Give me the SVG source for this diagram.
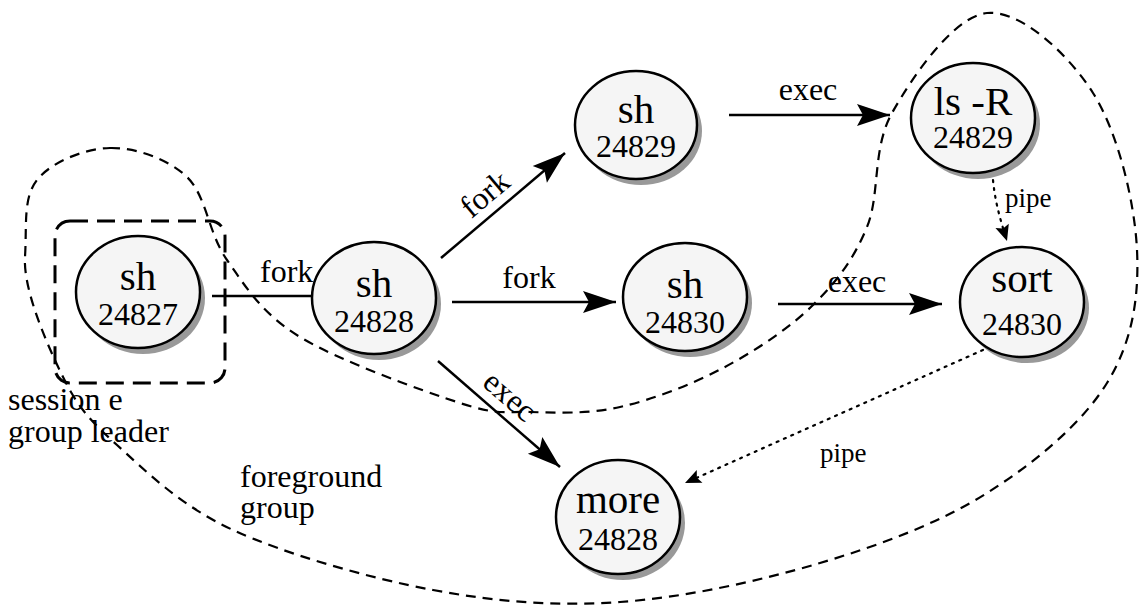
<svg xmlns="http://www.w3.org/2000/svg" width="1139" height="606" viewBox="0 0 1139 606">
<style>
text{font-family:"Liberation Serif","Times New Roman",serif;fill:#000}
.nm{font-size:41px;text-anchor:middle}
.pid{font-size:32px;text-anchor:middle}
.lbl{font-size:32px}
.pl{font-size:27px}
.shadow{fill:#999;stroke:none}
.body{fill:#f5f5f5;stroke:#000;stroke-width:2.5}
.edge{stroke:#000;stroke-width:2.5;fill:none}
.dot{stroke:#000;stroke-width:2.2;fill:none;stroke-dasharray:2 6;stroke-linecap:round}
.grp{stroke:#000;stroke-width:2.2;fill:none;stroke-dasharray:10 7}
.leader{stroke:#000;stroke-width:3;fill:none;stroke-dasharray:18 9}
</style>
<defs>
<marker id="big" markerUnits="userSpaceOnUse" markerWidth="40" markerHeight="30" viewBox="-36 -15 40 30" refX="0" refY="0" orient="auto">
<path d="M0,0 L-33,-11 L-27,0 L-33,11 Z" fill="#000"/>
</marker>
<marker id="small" markerUnits="userSpaceOnUse" markerWidth="24" markerHeight="20" viewBox="-20 -10 24 20" refX="0" refY="0" orient="auto">
<path d="M0,0 L-16,-7 L-13,0 L-16,7 Z" fill="#000"/>
</marker>
</defs>

<g id="groups">
<path class="grp" d="M110,148 C135,147.5 167.5,158.3 187,177 C206.5,195.7 208.2,233.3 227,260 C245.8,286.7 261.2,313.2 300,337 C338.8,360.8 421.7,390.5 460,403 C498.3,415.5 503.3,411.3 530,412 C556.7,412.7 587.8,414.3 620,407 C652.2,399.7 690.8,385 723,368 C755.2,351 789,328.5 813,305 C837,281.5 853.8,259 867,227 C880.2,195 872,148.7 892,113 C912,77.3 953.5,16.3 987,13 C1020.5,9.7 1068,53.5 1093,93 C1118,132.5 1134.7,201.7 1137,250 C1139.3,298.3 1132,342.5 1107,383 C1082,423.5 1034.8,463 987,493 C939.2,523 881.2,544.8 820,563 C758.8,581.2 684.5,597.5 620,602 C555.5,606.5 497.5,602 433,590 C368.5,578 285.7,554.2 233,530 C180.3,505.8 145.5,470.8 117,445 C88.5,419.2 77.3,406.3 62,375 C46.7,343.7 23,289.5 25,257 C27,224.5 22.8,198.2 37,180 C51.2,161.8 85,148.5 110,148 Z"/>
<rect class="leader" x="55" y="221" width="170" height="162" rx="15" ry="15"/>
</g>

<g id="connectors">
<line class="edge" x1="212" y1="296" x2="313" y2="296"/>
<text class="lbl" x="260" y="282">fork</text>
<line class="edge" x1="441" y1="258" x2="565" y2="153" marker-end="url(#big)"/>
<text class="lbl" x="491.6" y="202" text-anchor="middle" transform="rotate(-40 491.6 202)">fork</text>
<line class="edge" x1="452" y1="302" x2="616" y2="302" marker-end="url(#big)"/>
<text class="lbl" x="529" y="288" text-anchor="middle">fork</text>
<line class="edge" x1="729" y1="115" x2="890" y2="115" marker-end="url(#big)"/>
<text class="lbl" x="808" y="100" text-anchor="middle">exec</text>
<line class="edge" x1="778" y1="304" x2="942" y2="304" marker-end="url(#big)"/>
<text class="lbl" x="857" y="292" text-anchor="middle">exec</text>
<line class="edge" x1="438" y1="361" x2="560" y2="467" marker-end="url(#big)"/>
<text class="lbl" x="503" y="404" text-anchor="middle" transform="rotate(41 503 404)">exec</text>
<path class="dot" d="M993,180 C995,200 999,216 1007,241" marker-end="url(#small)"/>
<text class="pl" x="1005" y="207">pipe</text>
<line class="dot" x1="983" y1="350" x2="685" y2="483" marker-end="url(#small)"/>
<text class="pl" x="820" y="462">pipe</text>
</g>

<g id="n24827">
<ellipse class="shadow" cx="143" cy="298" rx="62" ry="56"/>
<ellipse class="body" cx="138" cy="292" rx="62" ry="56"/>
<text class="nm" x="138" y="290">sh</text>
<text class="pid" x="138" y="325">24827</text>
</g>
<g id="n24828">
<ellipse class="shadow" cx="379" cy="304" rx="62" ry="56"/>
<ellipse class="body" cx="374" cy="298" rx="62" ry="56"/>
<text class="nm" x="374" y="297">sh</text>
<text class="pid" x="374" y="332">24828</text>
</g>
<g id="n24829">
<ellipse class="shadow" cx="641" cy="131" rx="61" ry="54"/>
<ellipse class="body" cx="636" cy="125" rx="61" ry="54"/>
<text class="nm" x="636" y="123">sh</text>
<text class="pid" x="636" y="157">24829</text>
</g>
<g id="nlsR">
<ellipse class="shadow" cx="978" cy="124" rx="62" ry="55"/>
<ellipse class="body" cx="973" cy="118" rx="62" ry="55"/>
<text class="nm" x="973" y="115">ls -R</text>
<text class="pid" x="973" y="148">24829</text>
</g>
<g id="n24830">
<ellipse class="shadow" cx="690" cy="303" rx="62" ry="54"/>
<ellipse class="body" cx="685" cy="297" rx="62" ry="54"/>
<text class="nm" x="685" y="298">sh</text>
<text class="pid" x="685" y="333">24830</text>
</g>
<g id="nsort">
<ellipse class="shadow" cx="1027" cy="308" rx="62" ry="55"/>
<ellipse class="body" cx="1022" cy="302" rx="62" ry="55"/>
<text class="nm" x="1022" y="292">sort</text>
<text class="pid" x="1022" y="335">24830</text>
</g>
<g id="nmore">
<ellipse class="shadow" cx="623" cy="523" rx="62" ry="57"/>
<ellipse class="body" cx="618" cy="517" rx="62" ry="57"/>
<text class="nm" x="618" y="513">more</text>
<text class="pid" x="618" y="550">24828</text>
</g>

<g id="labels">
<text class="lbl" x="8" y="410" font-size="33">session e</text>
<text class="lbl" x="8" y="442" font-size="33">group leader</text>
<text class="lbl" x="240" y="487" font-size="33">foreground</text>
<text class="lbl" x="240" y="518" font-size="33">group</text>
</g>
</svg>
